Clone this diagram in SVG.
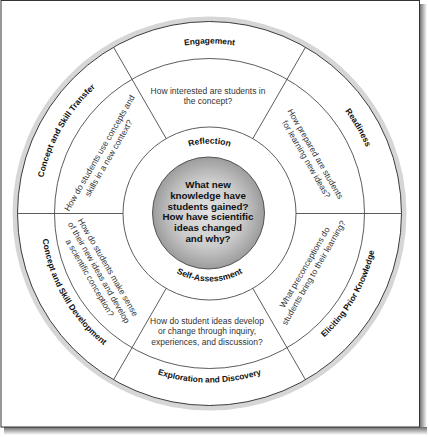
<svg xmlns="http://www.w3.org/2000/svg" width="429" height="437" viewBox="0 0 429 437">
<defs>
<linearGradient id="shR" x1="0" x2="1" y1="0" y2="0"><stop offset="0" stop-color="#6a6a6a"/><stop offset="1" stop-color="#ffffff"/></linearGradient>
<linearGradient id="shB" x1="0" x2="0" y1="0" y2="1"><stop offset="0" stop-color="#6a6a6a"/><stop offset="1" stop-color="#ffffff"/></linearGradient>
<radialGradient id="coreFill" cx="0.5" cy="0.5" r="0.5"><stop offset="0" stop-color="#e2e2e2"/><stop offset="0.6" stop-color="#cbcbcb"/><stop offset="1" stop-color="#9c9c9c"/></radialGradient>
<path id="pEng" d="M62.3,128.5 A170,170 0 0 1 356.7,128.5"/>
<path id="pRea" d="M209.5,43.5 A170,170 0 0 1 356.7,298.5"/>
<path id="pTra" d="M62.3,298.5 A170,170 0 0 1 209.5,43.5"/>
<path id="pExp" d="M63.1,298 A169,169 0 0 0 355.9,298"/>
<path id="pEli" d="M209.5,382.5 A169,169 0 0 0 355.9,129"/>
<path id="pDev" d="M63.1,129 A169,169 0 0 0 209.5,382.5"/>
<path id="pRef" d="M148.9,178.5 A70,70 0 0 1 270.1,178.5"/>
<path id="pSelf" d="M150.6,247.5 A68,68 0 0 0 268.4,247.5"/>
</defs>
<style>
.lbl{font-family:"Liberation Sans",Arial,sans-serif;font-weight:bold;font-size:8.4px;fill:#111}
.q{font-family:"Liberation Sans",Arial,sans-serif;font-size:8.5px;fill:#333;text-anchor:middle}
.core{font-family:"Liberation Sans",Arial,sans-serif;font-weight:bold;font-size:9.8px;fill:#111;text-anchor:middle}
.ring{fill:none;stroke:#4a4a4a;stroke-width:0.9}
.div{stroke:#4a4a4a;stroke-width:0.9}
</style>

<g id="frame">
<rect x="419.5" y="4" width="7.5" height="431" fill="url(#shR)"/>
<rect x="4" y="427" width="423" height="8" fill="url(#shB)"/>
<rect x="1" y="0.5" width="418.5" height="426.5" fill="#ffffff" stroke="#333" stroke-width="1"/>
</g>

<g id="wheel">
<circle cx="209.5" cy="213.5" r="194.5" fill="none" stroke="#d6d6d6" stroke-width="5"/>
<circle cx="209.5" cy="213.5" r="192" fill="#ffffff" stroke="#3a3a3a" stroke-width="1"/>
<circle class="ring" cx="209.5" cy="213.5" r="155"/>
<circle class="ring" cx="209.5" cy="213.5" r="86.5"/>
</g>

<g id="dividers">
<line class="div" x1="17.5" y1="213.5" x2="123" y2="213.5"/>
<line class="div" x1="296" y1="213.5" x2="401.5" y2="213.5"/>
<line class="div" x1="113.5" y1="47.2" x2="166.2" y2="138.6"/>
<line class="div" x1="305.5" y1="47.2" x2="252.8" y2="138.6"/>
<line class="div" x1="113.5" y1="379.8" x2="166.2" y2="288.4"/>
<line class="div" x1="305.5" y1="379.8" x2="252.8" y2="288.4"/>
</g>

<g id="engagement">
<text class="lbl"><textPath href="#pEng" startOffset="50%" text-anchor="middle">Engagement</textPath></text>
<text class="q" x="208" y="93.7">How interested are students in</text>
<text class="q" x="208" y="104.2">the concept?</text>
</g>

<g id="readiness">
<text class="lbl"><textPath href="#pRea" startOffset="50%" text-anchor="middle">Readiness</textPath></text>
<g transform="translate(311,156.5) rotate(60)">
<text class="q" x="0" y="-2.2">How prepared are students</text>
<text class="q" x="0" y="8.3">for learning new ideas?</text>
</g>
</g>

<g id="eliciting">
<text class="lbl"><textPath href="#pEli" startOffset="50%" text-anchor="middle">Eliciting Prior Knowledge</textPath></text>
<g transform="translate(309,270) rotate(-60)">
<text class="q" x="0" y="-2.2">What preconceptions do</text>
<text class="q" x="0" y="8.3">students bring to their learning?</text>
</g>
</g>

<g id="exploration">
<text class="lbl"><textPath href="#pExp" startOffset="50%" text-anchor="middle">Exploration and Discovery</textPath></text>
<text class="q" x="207" y="323.7">How do student ideas develop</text>
<text class="q" x="207" y="334.4">or change through inquiry,</text>
<text class="q" x="207" y="345">experiences, and discussion?</text>
</g>

<g id="development">
<text class="lbl"><textPath href="#pDev" startOffset="50%" text-anchor="middle">Concept and Skill Development</textPath></text>
<g transform="translate(99,272.5) rotate(60)">
<text class="q" x="0" y="-7.5">How do students make sense</text>
<text class="q" x="0" y="3">of their new ideas and develop</text>
<text class="q" x="0" y="13.5">a scientific conception?</text>
</g>
</g>

<g id="transfer">
<text class="lbl"><textPath href="#pTra" startOffset="50%" text-anchor="middle">Concept and Skill Transfer</textPath></text>
<g transform="translate(104,155.5) rotate(-60)">
<text class="q" x="0" y="-2.2">How do students use concepts and</text>
<text class="q" x="0" y="8.3">skills in a new context?</text>
</g>
</g>

<g id="reflection">
<text class="lbl" style="font-size:8.6px"><textPath href="#pRef" startOffset="50%" text-anchor="middle">Reflection</textPath></text>
<text class="lbl" style="font-size:8.6px"><textPath href="#pSelf" startOffset="50%" text-anchor="middle">Self-Assessment</textPath></text>
</g>

<g id="core">
<circle cx="208.5" cy="213" r="56" fill="url(#coreFill)" stroke="#555" stroke-width="1"/>
<text class="core" x="208" y="188">What new</text>
<text class="core" x="208" y="198.8">knowledge have</text>
<text class="core" x="208" y="209.6">students gained?</text>
<text class="core" x="208" y="220.4">How have scientific</text>
<text class="core" x="208" y="231.2">ideas changed</text>
<text class="core" x="208" y="242">and why?</text>
</g>
</svg>
